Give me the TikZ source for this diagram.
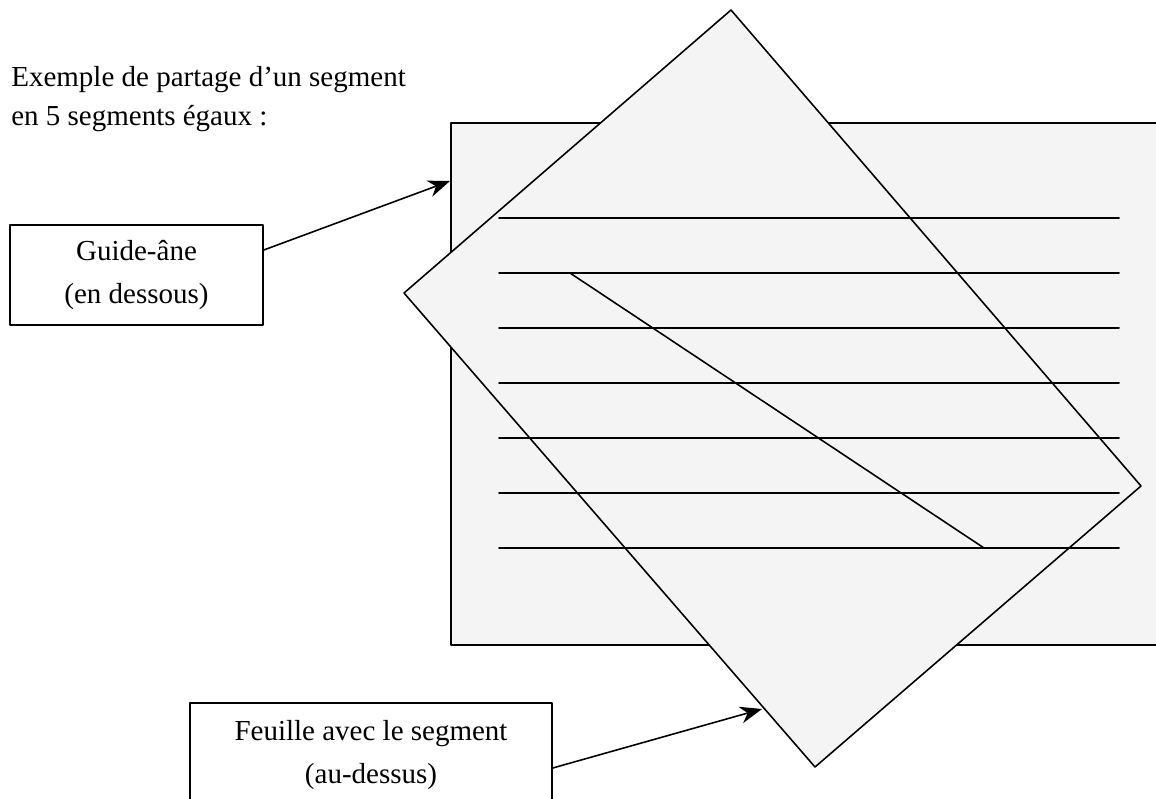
\documentclass[tikz,border=0pt]{standalone}
\usepackage{fontspec}
\setmainfont{Liberation Serif}
\usetikzlibrary{arrows.meta}
\definecolor{papier}{HTML}{F4F4F4}
\tikzset{
  legende/.style={draw,line width=0.9pt,align=center,inner sep=0pt,font=\fontsize{16.5}{24.5}\selectfont},
  fleche/.style={-{Stealth[length=0.44cm,width=0.34cm]},line width=0.9pt},
}
\begin{document}
\begin{tikzpicture}[line cap=round,line join=round,x=0.02cm,y=-0.02cm]
\clip (0,0) rectangle (1156,798);
%guide-ane, en dessous
\draw [line width=0.9pt,fill=papier] (451,123) rectangle (1175,645);
%feuille, au-dessus
\draw [line width=0.9pt,fill=papier] (731,10) -- (1141,486) -- (815,767) -- (404,293) -- cycle;
\foreach \y in {218,273,328,383,438,493,548}
  \draw [line width=1.1pt] (499,\y) -- (1119,\y);
\draw [line width=0.9pt] (570,273) -- (984,548);
\node [anchor=north west,align=left,inner sep=0pt,font=\fontsize{16.5}{22.2}\selectfont] (titre) at (11,66) {Exemple de partage d'un segment\\en 5 segments égaux :};
\node [legende,minimum width=5.06cm,minimum height=2cm] (guide) at (136.5,275) {Guide-âne\\(en dessous)};
\node [legende,minimum width=7.24cm,minimum height=2.08cm] (feuille) at (371,755) {Feuille avec le segment\\(au-dessus)};
\coordinate (bord) at (450,181);%rectangle
\coordinate (coin) at (762,709);%feuille
\draw [fleche] ([yshift=0.5cm]guide.east) -- (bord);
\draw [fleche] ([yshift=-0.26cm]feuille.east) -- (coin);
\end{tikzpicture}
\end{document}
